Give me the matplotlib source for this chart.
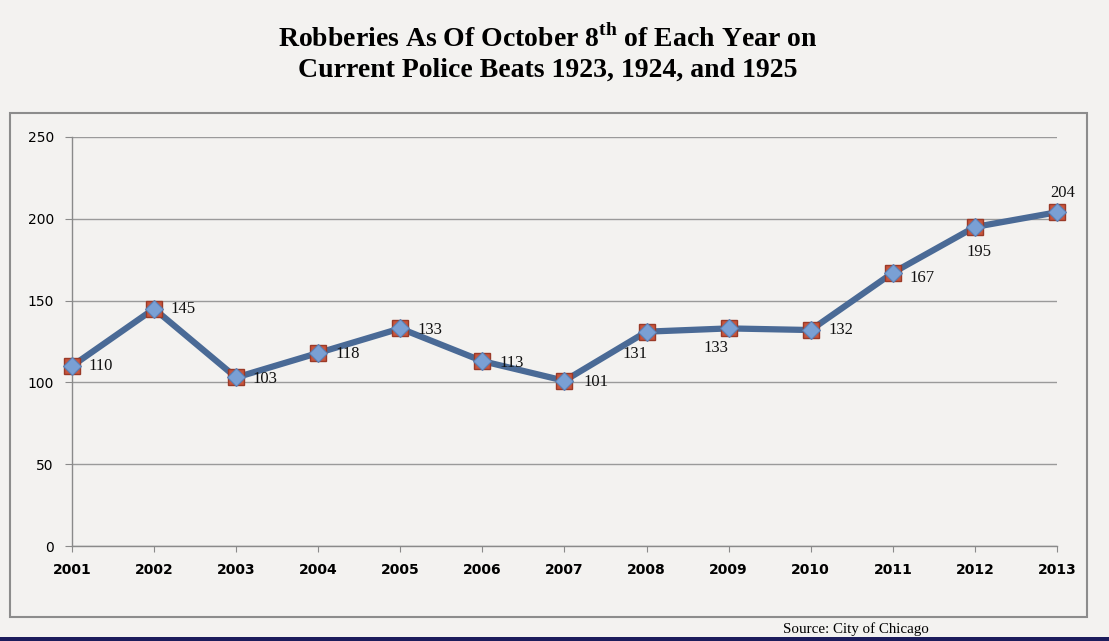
import matplotlib
matplotlib.use("Agg")
import matplotlib.pyplot as plt
from matplotlib.patches import Rectangle

years = [2001, 2002, 2003, 2004, 2005, 2006, 2007, 2008, 2009, 2010, 2011, 2012, 2013]
robberies = [110, 145, 103, 118, 133, 113, 101, 131, 133, 132, 167, 195, 204]

# label offsets in points (dx, dy) for each data label
label_offsets = [(21, 0), (21, 0), (21, -1), (21, -1), (21, -1), (21, -1), (23, -1),
                 (-8, -16), (-9, -14), (22, 0), (21, -4), (3, -18), (4, 14)]

bg = "#f3f2f0"
fig = plt.figure(figsize=(11.09, 6.41), dpi=100, facecolor=bg)
ax = fig.add_axes([0.0649, 0.1482, 0.8882, 0.6381], facecolor=bg)

ax.plot(years, robberies, color="#4a6a96", lw=4.5, zorder=3, solid_capstyle="round",
        clip_on=False)
ax.plot(years, robberies, ls="none", marker="s", ms=11.5, mfc="#c8553d", mec="#9a3a28",
        mew=1, zorder=4, clip_on=False)
ax.plot(years, robberies, ls="none", marker="D", ms=9, mfc="#7aa0d4", mec="#5b7fb3",
        mew=0.8, zorder=5, clip_on=False)

for x, y, (dx, dy) in zip(years, robberies, label_offsets):
    ax.annotate(str(y), (x, y), xytext=(dx, dy), textcoords="offset points",
                ha="center", va="center", fontsize=12, family="Liberation Serif",
                color="#111111", zorder=6)

ax.set_xlim(2001, 2013)
ax.set_ylim(0, 250)
ax.set_xticks(years)
ax.set_xticklabels([str(y) for y in years], fontsize=10, fontweight="bold")
ax.set_yticks([0, 50, 100, 150, 200, 250])
ax.tick_params(axis="y", labelsize=10, length=5, color="#8a8a8a", pad=8)
ax.tick_params(axis="x", length=4, color="#8a8a8a", pad=8)
ax.grid(axis="y", color="#9a9a9a", lw=1)
ax.set_axisbelow(True)
for s in ["top", "right"]:
    ax.spines[s].set_visible(False)
for s in ["left", "bottom"]:
    ax.spines[s].set_color("#8a8a8a")
    ax.spines[s].set_linewidth(1)

# outer chart frame
fig.patches.append(Rectangle((0.009, 0.0374), 0.971, 0.7863, transform=fig.transFigure,
                             fill=False, ec="#8c8c8c", lw=1.5))
# dark strip at the bottom edge
fig.patches.append(Rectangle((0, 0), 1, 0.007, transform=fig.transFigure,
                             fc="#1c1c5c", ec="none"))

plt.rcParams["mathtext.fontset"] = "custom"
plt.rcParams["mathtext.rm"] = "Liberation Serif:bold"
fig.text(0.494, 0.94, r"Robberies As Of October 8$^{\mathrm{th}}$ of Each Year on",
         ha="center", va="center", fontsize=20, fontweight="bold", family="Liberation Serif")
fig.text(0.494, 0.89, "Current Police Beats 1923, 1924, and 1925",
         ha="center", va="center", fontsize=20, fontweight="bold", family="Liberation Serif")
fig.text(0.706, 0.019, "Source: City of Chicago", ha="left", va="center",
         fontsize=10.8, family="Liberation Serif")

fig.savefig("out.png", dpi=100, facecolor=bg)
